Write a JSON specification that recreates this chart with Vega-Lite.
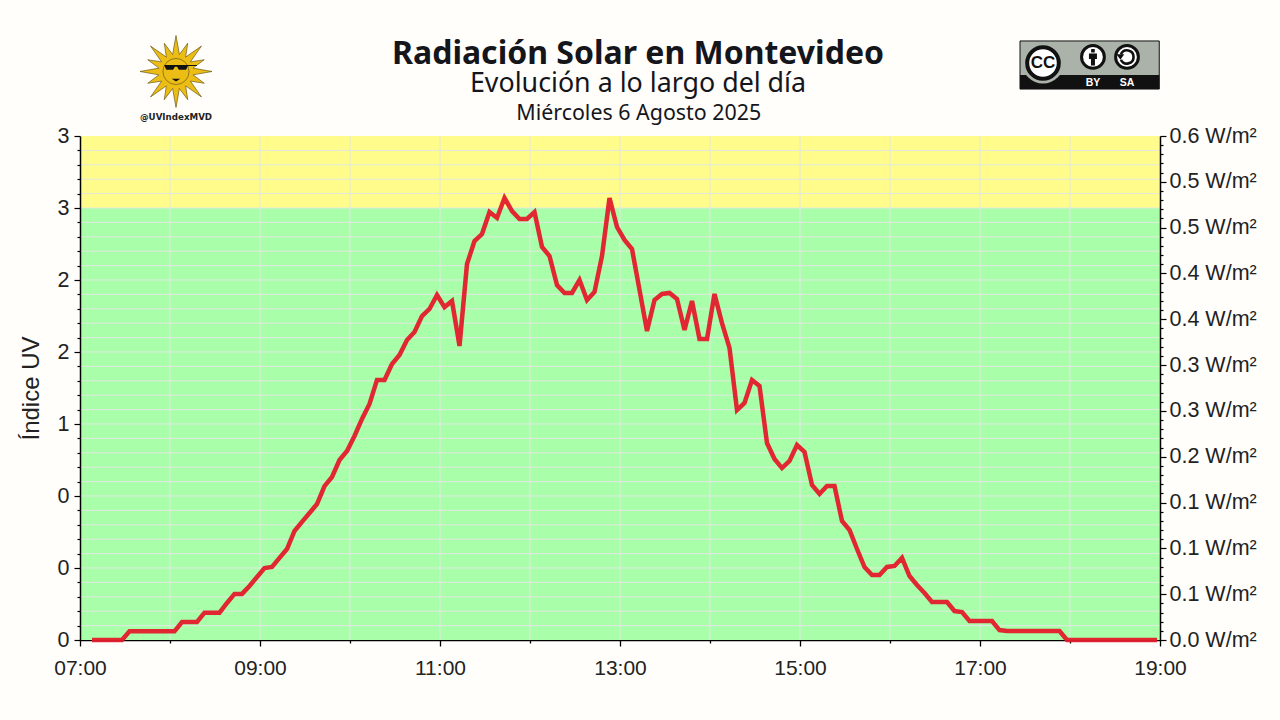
{
  "$schema": "https://vega.github.io/schema/vega-lite/v6.json",
  "description": "Radiacion solar en Montevideo, evolucion a lo largo del dia",
  "width": 1080,
  "height": 504,
  "autosize": "none",
  "padding": {"left": 80, "top": 136, "right": 120, "bottom": 80},
  "background": "#fffefa",
  "view": {"stroke": null},
  "title": {
    "text": "Radiación Solar en Montevideo",
    "subtitle": "Evolución a lo largo del día",
    "font": "Noto Sans",
    "fontSize": 32,
    "fontWeight": "bold",
    "color": "#15151c",
    "subtitleFont": "Noto Sans",
    "subtitleFontSize": 26.8,
    "subtitleColor": "#15151c",
    "subtitlePadding": 0,
    "anchor": "middle",
    "dx": 18,
    "offset": -64.5
  },
  "datasets": {
    "uv": [
      {"minuto":428,"uv":0},{"minuto":433,"uv":0},{"minuto":438,"uv":0},{"minuto":443,"uv":0},{"minuto":448,"uv":0},
      {"minuto":453,"uv":0.06},{"minuto":458,"uv":0.06},{"minuto":463,"uv":0.06},{"minuto":468,"uv":0.06},{"minuto":473,"uv":0.06},{"minuto":478,"uv":0.06},{"minuto":483,"uv":0.06},
      {"minuto":488,"uv":0.125},{"minuto":493,"uv":0.125},{"minuto":498,"uv":0.125},{"minuto":503,"uv":0.19},{"minuto":508,"uv":0.19},{"minuto":513,"uv":0.19},
      {"minuto":518,"uv":0.257},{"minuto":523,"uv":0.32},{"minuto":528,"uv":0.32},{"minuto":533,"uv":0.375},{"minuto":538,"uv":0.4375},{"minuto":543,"uv":0.5},{"minuto":548,"uv":0.507},
      {"minuto":553,"uv":0.57},{"minuto":558,"uv":0.632},{"minuto":563,"uv":0.757},{"minuto":568,"uv":0.82},{"minuto":573,"uv":0.882},{"minuto":578,"uv":0.944},{"minuto":583,"uv":1.069},
      {"minuto":588,"uv":1.132},{"minuto":593,"uv":1.25},{"minuto":598,"uv":1.3125},{"minuto":603,"uv":1.417},{"minuto":608,"uv":1.535},{"minuto":613,"uv":1.639},{"minuto":618,"uv":1.806},
      {"minuto":623,"uv":1.806},{"minuto":628,"uv":1.917},{"minuto":633,"uv":1.979},{"minuto":638,"uv":2.083},{"minuto":643,"uv":2.139},{"minuto":648,"uv":2.25},{"minuto":653,"uv":2.299},
      {"minuto":658,"uv":2.396},{"minuto":663,"uv":2.312},{"minuto":668,"uv":2.354},{"minuto":673,"uv":2.042},{"minuto":678,"uv":2.611},{"minuto":683,"uv":2.771},{"minuto":688,"uv":2.819},
      {"minuto":693,"uv":2.972},{"minuto":698,"uv":2.931},{"minuto":703,"uv":3.069},{"minuto":708,"uv":2.979},{"minuto":713,"uv":2.924},{"minuto":718,"uv":2.924},{"minuto":723,"uv":2.972},
      {"minuto":728,"uv":2.729},{"minuto":733,"uv":2.667},{"minuto":738,"uv":2.465},{"minuto":743,"uv":2.41},{"minuto":748,"uv":2.41},{"minuto":753,"uv":2.5},{"minuto":758,"uv":2.361},
      {"minuto":763,"uv":2.417},{"minuto":768,"uv":2.667},{"minuto":773,"uv":3.069},{"minuto":778,"uv":2.868},{"minuto":783,"uv":2.778},{"minuto":788,"uv":2.715},{"minuto":793,"uv":2.431},
      {"minuto":798,"uv":2.146},{"minuto":803,"uv":2.361},{"minuto":808,"uv":2.403},{"minuto":813,"uv":2.41},{"minuto":818,"uv":2.368},{"minuto":823,"uv":2.153},{"minuto":828,"uv":2.354},
      {"minuto":833,"uv":2.09},{"minuto":838,"uv":2.09},{"minuto":843,"uv":2.403},{"minuto":848,"uv":2.201},{"minuto":853,"uv":2.028},{"minuto":858,"uv":1.597},{"minuto":863,"uv":1.646},
      {"minuto":868,"uv":1.806},{"minuto":873,"uv":1.764},{"minuto":878,"uv":1.368},{"minuto":883,"uv":1.257},{"minuto":888,"uv":1.194},{"minuto":893,"uv":1.243},{"minuto":898,"uv":1.354},
      {"minuto":903,"uv":1.306},{"minuto":908,"uv":1.076},{"minuto":913,"uv":1.014},{"minuto":918,"uv":1.069},{"minuto":923,"uv":1.069},{"minuto":928,"uv":0.826},{"minuto":933,"uv":0.764},
      {"minuto":938,"uv":0.632},{"minuto":943,"uv":0.507},{"minuto":948,"uv":0.451},{"minuto":953,"uv":0.451},{"minuto":958,"uv":0.507},{"minuto":963,"uv":0.514},{"minuto":968,"uv":0.57},
      {"minuto":973,"uv":0.444},{"minuto":978,"uv":0.382},{"minuto":983,"uv":0.326},{"minuto":988,"uv":0.264},{"minuto":993,"uv":0.264},{"minuto":998,"uv":0.264},{"minuto":1003,"uv":0.201},
      {"minuto":1008,"uv":0.194},{"minuto":1013,"uv":0.132},{"minuto":1018,"uv":0.132},{"minuto":1023,"uv":0.132},{"minuto":1028,"uv":0.132},{"minuto":1033,"uv":0.069},{"minuto":1038,"uv":0.062},
      {"minuto":1043,"uv":0.062},{"minuto":1048,"uv":0.062},{"minuto":1053,"uv":0.062},{"minuto":1058,"uv":0.062},{"minuto":1063,"uv":0.062},{"minuto":1068,"uv":0.062},{"minuto":1073,"uv":0.062},
      {"minuto":1078,"uv":0},{"minuto":1083,"uv":0},{"minuto":1088,"uv":0},{"minuto":1093,"uv":0},{"minuto":1098,"uv":0},{"minuto":1103,"uv":0},{"minuto":1108,"uv":0},{"minuto":1113,"uv":0},
      {"minuto":1118,"uv":0},{"minuto":1123,"uv":0},{"minuto":1128,"uv":0},{"minuto":1133,"uv":0},{"minuto":1138,"uv":0}
    ],
    "zonas": [
      {"desde":0,"hasta":3,"zona":"bajo"},
      {"desde":3,"hasta":3.5,"zona":"moderado"}
    ],
    "horas": [
      {"minuto":480},{"minuto":540},{"minuto":600},{"minuto":660},{"minuto":720},{"minuto":780},{"minuto":840},{"minuto":900},{"minuto":960},{"minuto":1020},{"minuto":1080}
    ],
    "niveles": [
      {"uv":0.1},{"uv":0.2},{"uv":0.3},{"uv":0.4},{"uv":0.5},{"uv":0.6},{"uv":0.7},{"uv":0.8},{"uv":0.9},{"uv":1},{"uv":1.1},{"uv":1.2},{"uv":1.3},{"uv":1.4},{"uv":1.5},{"uv":1.6},{"uv":1.7},{"uv":1.8},
      {"uv":1.9},{"uv":2},{"uv":2.1},{"uv":2.2},{"uv":2.3},{"uv":2.4},{"uv":2.5},{"uv":2.6},{"uv":2.7},{"uv":2.8},{"uv":2.9},{"uv":3},{"uv":3.1},{"uv":3.2},{"uv":3.3},{"uv":3.4}
    ],
    "limites": [{"minuto":420,"uv":0},{"minuto":1140,"uv":3.5}],
    "irradiancia": [{"wm2":0},{"wm2":0.55}]
  },
  "layer": [
    {
      "layer": [
        {
          "data": {"name": "zonas"},
          "mark": {"type": "rect"},
          "encoding": {
            "x": {
              "datum": 420,
              "type": "quantitative",
              "scale": {"domain": [420, 1140], "nice": false, "zero": false},
              "axis": null
            },
            "x2": {"datum": 1140},
            "y": {
              "field": "desde",
              "type": "quantitative",
              "scale": {"domain": [0, 3.5], "nice": false, "zero": false},
              "axis": null
            },
            "y2": {"field": "hasta"},
            "color": {
              "field": "zona",
              "type": "nominal",
              "scale": {"domain": ["bajo", "moderado"], "range": ["#a9ffa9", "#fffc8b"]},
              "legend": null
            }
          }
        },
        {
          "data": {"name": "niveles"},
          "mark": {"type": "rule", "color": "#e2e8e0", "strokeWidth": 1},
          "encoding": {"y": {"field": "uv", "type": "quantitative", "axis": null}}
        },
        {
          "data": {"name": "horas"},
          "mark": {"type": "rule", "color": "#e2e8e0", "strokeWidth": 1},
          "encoding": {"x": {"field": "minuto", "type": "quantitative", "axis": null}}
        },
        {
          "data": {"name": "uv"},
          "mark": {"type": "line", "color": "#e31b2b", "strokeWidth": 4.5, "strokeJoin": "miter", "strokeOpacity": 0.95},
          "encoding": {
            "x": {"field": "minuto", "type": "quantitative", "axis": null},
            "y": {"field": "uv", "type": "quantitative", "axis": null}
          }
        },
        {
          "data": {"values": [{}]},
          "mark": {"type": "text", "text": "Miércoles 6 Agosto 2025", "font": "Noto Sans", "fontSize": 21.4, "color": "#15151c", "baseline": "middle"},
          "encoding": {
            "x": {"datum": 792.5, "type": "quantitative", "axis": null},
            "y": {"datum": 3.655, "type": "quantitative", "axis": null}
          }
        },
        {
          "data": {"values": [{}]},
          "layer": [
            {
              "mark": {
                "type": "point",
                "shape": "M0 -1L.094 -.471L.326 -.785L.267 -.399L.707 -.707L.399 -.267L.785 -.326L.471 -.094L1 0L.471 .094L.785 .326L.399 .267L.707 .707L.267 .399L.326 .785L.094 .471L0 1L-.094 .471L-.326 .785L-.267 .399L-.707 .707L-.399 .267L-.785 .326L-.471 .094L-1 0L-.471 -.094L-.785 -.326L-.399 -.267L-.707 -.707L-.267 -.399L-.326 -.785L-.094 -.471Z",
                "filled": true,
                "fill": "#ecbd14",
                "stroke": "#6b5a1a",
                "strokeWidth": 0.7,
                "size": 5184,
                "opacity": 1
              }
            },
            {
              "mark": {
                "type": "point",
                "shape": "circle",
                "filled": true,
                "fill": "#ecbd14",
                "stroke": "#6b5a1a",
                "strokeWidth": 0.7,
                "size": 680,
                "opacity": 1
              }
            },
            {
              "mark": {
                "type": "point",
                "shape": "M-.33 -.18L.58 -.18L.58 -.15L.33 -.15L.28 -.05L.08 -.05L.03 -.13L-.03 -.13L-.08 -.05L-.27 -.05ZM-.12 .2L.12 .2L0 .28Z",
                "filled": true,
                "fill": "#111111",
                "size": 5184,
                "opacity": 1
              }
            }
          ],
          "encoding": {
            "x": {"datum": 484, "type": "quantitative", "axis": null},
            "y": {"datum": 3.948, "type": "quantitative", "axis": null}
          }
        },
        {
          "data": {"values": [{}]},
          "mark": {"type": "text", "text": "@UVIndexMVD", "font": "DejaVu Sans", "fontWeight": "bold", "fontSize": 8.7, "color": "#222222", "baseline": "middle"},
          "encoding": {
            "x": {"datum": 484, "type": "quantitative", "axis": null},
            "y": {"datum": 3.632, "type": "quantitative", "axis": null}
          }
        },
        {
          "data": {"values": [{}]},
          "mark": {"type": "rect", "fill": "#aab2aa", "stroke": "#111111", "strokeWidth": 1},
          "encoding": {
            "x": {"datum": 1046.67, "type": "quantitative", "axis": null},
            "x2": {"datum": 1139.5},
            "y": {"datum": 4.16, "type": "quantitative", "axis": null},
            "y2": {"datum": 3.826}
          }
        },
        {
          "data": {"values": [{}]},
          "mark": {"type": "rect", "fill": "#111111"},
          "encoding": {
            "x": {"datum": 1046.67, "type": "quantitative", "axis": null},
            "x2": {"datum": 1139.5},
            "y": {"datum": 3.924, "type": "quantitative", "axis": null},
            "y2": {"datum": 3.826}
          }
        },
        {
          "data": {"values": [{}]},
          "encoding": {
            "x": {"datum": 1062, "type": "quantitative", "axis": null},
            "y": {"datum": 4.007, "type": "quantitative", "axis": null}
          },
          "layer": [
            {"mark": {"type": "point", "shape": "circle", "filled": true, "fill": "#aab2aa", "size": 1700, "opacity": 1}},
            {"mark": {"type": "point", "shape": "circle", "filled": true, "fill": "#ffffff", "stroke": "#111111", "strokeWidth": 4, "size": 1000, "opacity": 1}},
            {"mark": {"type": "text", "text": "CC", "font": "Liberation Sans", "fontWeight": "bold", "fontSize": 17, "color": "#111111", "baseline": "middle"}}
          ]
        },
        {
          "data": {"values": [{}]},
          "encoding": {
            "x": {"datum": 1095.3, "type": "quantitative", "axis": null},
            "y": {"datum": 4.049, "type": "quantitative", "axis": null}
          },
          "layer": [
            {"mark": {"type": "point", "shape": "circle", "filled": true, "fill": "#ffffff", "stroke": "#111111", "strokeWidth": 3, "size": 520, "opacity": 1}},
            {"mark": {"type": "point", "shape": "M-.4 -.35L.4 -.35L.4 .2L.2 .2L.2 .85L-.2 .85L-.2 .2L-.4 .2ZM-.18 -.8L.18 -.8L.18 -.45L-.18 -.45Z", "filled": true, "fill": "#111111", "size": 400, "opacity": 1}}
          ]
        },
        {
          "data": {"values": [{}]},
          "encoding": {
            "x": {"datum": 1118, "type": "quantitative", "axis": null},
            "y": {"datum": 4.049, "type": "quantitative", "axis": null}
          },
          "layer": [
            {"mark": {"type": "point", "shape": "circle", "filled": true, "fill": "#ffffff", "stroke": "#111111", "strokeWidth": 3, "size": 520, "opacity": 1}},
            {"mark": {"type": "point", "shape": "M-.55 -.25A.6 .6 0 1 1 -.55 .25", "filled": false, "stroke": "#111111", "strokeWidth": 2.6, "size": 484, "opacity": 1}},
            {"mark": {"type": "point", "shape": "M-.95 -.25L-.25 -.25L-.6 .25Z", "filled": true, "fill": "#111111", "size": 484, "opacity": 1}}
          ]
        },
        {
          "data": {"values": [{}]},
          "mark": {"type": "text", "text": "BY", "font": "Liberation Sans", "fontWeight": "bold", "fontSize": 10.5, "color": "#ffffff", "baseline": "middle"},
          "encoding": {
            "x": {"datum": 1095.3, "type": "quantitative", "axis": null},
            "y": {"datum": 3.868, "type": "quantitative", "axis": null}
          }
        },
        {
          "data": {"values": [{}]},
          "mark": {"type": "text", "text": "SA", "font": "Liberation Sans", "fontWeight": "bold", "fontSize": 10.5, "color": "#ffffff", "baseline": "middle"},
          "encoding": {
            "x": {"datum": 1118, "type": "quantitative", "axis": null},
            "y": {"datum": 3.868, "type": "quantitative", "axis": null}
          }
        }
      ]
    },
    {
      "data": {"name": "limites"},
      "mark": {"type": "point", "opacity": 0},
      "encoding": {
        "x": {
          "field": "minuto",
          "type": "quantitative",
          "scale": {"domain": [420, 1140], "nice": false, "zero": false},
          "axis": {
            "title": null,
            "values": [420,480,540,600,660,720,780,840,900,960,1020,1080,1140],
            "labelExpr": "datum.value % 120 == 60 ? format(floor(datum.value / 60), '02d') + ':00' : ''",
            "labelFont": "Liberation Sans",
            "labelFontSize": 21,
            "labelColor": "#222222",
            "labelPadding": 11,
            "labelFlush": false,
            "labelOverlap": false,
            "domainColor": "#000000",
            "domainWidth": 1.5,
            "tickColor": "#000000",
            "tickWidth": 1.3,
            "tickSize": {"expr": "datum.value % 120 == 60 ? 6 : 3"},
            "grid": false,
            "zindex": 0
          }
        },
        "y": {
          "field": "uv",
          "type": "quantitative",
          "scale": {"domain": [0, 3.5], "nice": false, "zero": false},
          "axis": {
            "title": "Índice UV",
            "titleFont": "Liberation Sans",
            "titleFontSize": 24,
            "titleFontWeight": "normal",
            "titleColor": "#222222",
            "titlePadding": 14,
            "values": [0,0.1,0.2,0.3,0.4,0.5,0.6,0.7,0.8,0.9,1,1.1,1.2,1.3,1.4,1.5,1.6,1.7,1.8,1.9,2,2.1,2.2,2.3,2.4,2.5,2.6,2.7,2.8,2.9,3,3.1,3.2,3.3,3.4,3.5],
            "labelExpr": "round(datum.value * 10) % 5 != 0 ? '' : (datum.value == 1 ? '0' : format(floor(datum.value), 'd'))",
            "labelFont": "Liberation Sans",
            "labelFontSize": 21.5,
            "labelColor": "#222222",
            "labelPadding": 5,
            "labelOverlap": false,
            "domainColor": "#000000",
            "domainWidth": 1.5,
            "tickColor": "#000000",
            "tickWidth": 1.2,
            "tickSize": {"expr": "round(datum.value * 10) % 5 == 0 ? 6 : 3"},
            "grid": false,
            "zindex": 1
          }
        }
      }
    },
    {
      "data": {"name": "irradiancia"},
      "mark": {"type": "point", "opacity": 0},
      "encoding": {
        "y": {
          "field": "wm2",
          "type": "quantitative",
          "scale": {"domain": [0, 0.55], "nice": false, "zero": false},
          "axis": {
            "orient": "right",
            "title": null,
            "values": [0,0.01,0.02,0.03,0.04,0.05,0.06,0.07,0.08,0.09,0.1,0.11,0.12,0.13,0.14,0.15,0.16,0.17,0.18,0.19,0.2,0.21,0.22,0.23,0.24,0.25,0.26,0.27,0.28,0.29,0.3,0.31,0.32,0.33,0.34,0.35,0.36,0.37,0.38,0.39,0.4,0.41,0.42,0.43,0.44,0.45,0.46,0.47,0.48,0.49,0.5,0.51,0.52,0.53,0.54,0.55],
            "labelExpr": "round(datum.value * 100) % 5 != 0 ? '' : (abs(datum.value - 0.35) < 0.001 ? '0.4' : format(datum.value, '.1f')) + ' W/m²'",
            "labelFont": "Liberation Sans",
            "labelFontSize": 21.5,
            "labelColor": "#222222",
            "labelPadding": 3,
            "labelOverlap": false,
            "domainColor": "#000000",
            "domainWidth": 1.5,
            "tickColor": "#000000",
            "tickWidth": 1.2,
            "tickSize": {"expr": "round(datum.value * 100) % 5 == 0 ? 6 : 3"},
            "grid": false,
            "zindex": 1
          }
        }
      }
    }
  ],
  "resolve": {"scale": {"y": "independent"}, "axis": {"y": "independent", "x": "independent"}}
}
